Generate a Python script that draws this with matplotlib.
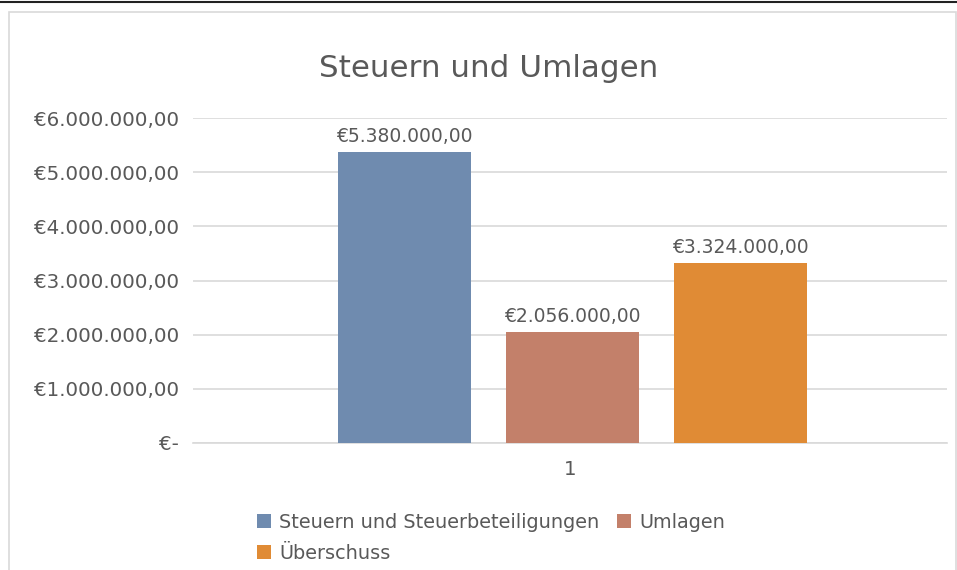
import matplotlib.pyplot as plt
from matplotlib.patches import Rectangle
from matplotlib.lines import Line2D

plt.rcParams['font.family'] = ['DejaVu Sans']

title = "Steuern und Umlagen"
category = "1"
series = ["Steuern und Steuerbeteiligungen", "Umlagen", "Überschuss"]
values = [5380000, 2056000, 3324000]
colors = ["#6F8BAF", "#C3806A", "#E08B35"]
yticks = [0, 1000000, 2000000, 3000000, 4000000, 5000000, 6000000]

txt = "#595959"


def euro(v):
    if v == 0:
        return "€-"
    s = f"{v:,.2f}"
    s = s.replace(",", "X").replace(".", ",").replace("X", ".")
    return "€" + s


W, H = 957, 570
fig = plt.figure(figsize=(W / 100, H / 100), dpi=100)

# frame lines like the screenshot
fig.add_artist(Line2D([0, 1], [1 - 1.5 / H, 1 - 1.5 / H], color="#222222", lw=1.5))
fig.add_artist(Rectangle((8.5 / W, -0.05), 947 / W, 1.05 - 11.5 / H,
                         fill=False, edgecolor="#D9D9D9", lw=1.2))

ax = fig.add_axes([193 / W, 1 - 443 / H, 754 / W, 325 / H])
offs = [-0.2195, 0.0033, 0.2261]
bw = 0.1764
for o, v, c, s in zip(offs, values, colors, series):
    ax.bar(o, v, width=bw, color=c, label=s, zorder=3)
    ax.text(o, v + 110000, euro(v), ha="center", va="bottom", fontsize=13.5, color=txt)

ax.set_xlim(-0.5, 0.5)
ax.set_ylim(0, 6000000)
ax.set_yticks(yticks)
ax.set_yticklabels([euro(v) for v in yticks])
ax.set_xticks([0])
ax.set_xticklabels([category])
ax.tick_params(axis="both", length=0, labelsize=14.3, colors=txt)
ax.tick_params(axis="y", pad=10)
ax.tick_params(axis="x", pad=12)
ax.grid(axis="y", color="#D9D9D9", lw=1.2, zorder=0)
for sp in ["top", "right", "left"]:
    ax.spines[sp].set_visible(False)
ax.spines["bottom"].set_color("#D9D9D9")
ax.spines["bottom"].set_linewidth(1.2)

fig.text(489 / W, 1 - 77 / H, title, ha="center", va="baseline", fontsize=22.3, color=txt)

h, l = ax.get_legend_handles_labels()
order = [0, 2, 1]
leg = fig.legend([h[i] for i in order], [l[i] for i in order], ncol=2,
                 loc="upper left", bbox_to_anchor=(249 / W, 1 - 505 / H),
                 frameon=False, fontsize=13.9, labelcolor=txt,
                 handlelength=0.72, handleheight=0.72, handletextpad=0.45,
                 columnspacing=0.9, labelspacing=0.62, borderaxespad=0)

fig.savefig("out.png", dpi=100)
